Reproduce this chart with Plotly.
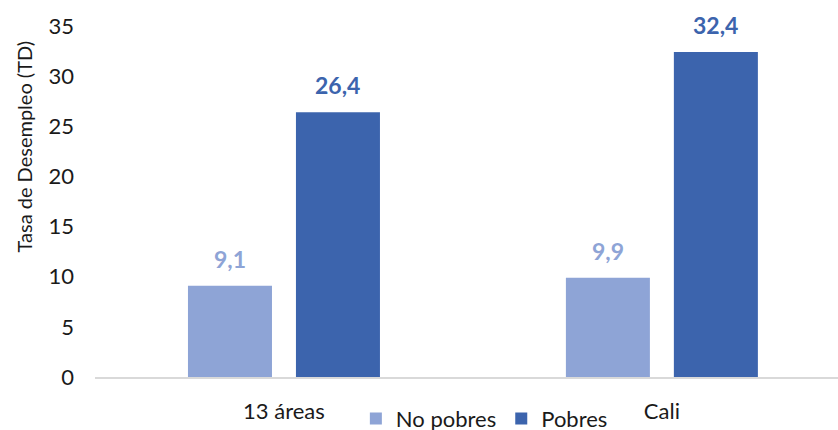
import plotly.graph_objects as go

categories = ["13 áreas", "Cali"]
no_pobres = [9.1, 9.9]
pobres = [26.4, 32.4]
series_names = ["No pobres", "Pobres"]
y_ticks = [0, 5, 10, 15, 20, 25, 30, 35]
y_title = "Tasa de Desempleo (TD)"

colors = ["#8EA4D6", "#3C64AD"]
font_family = "Lato, 'Open Sans', sans-serif"
text_color = "#1a1a1a"

fig = go.Figure()
for name, vals, col in zip(series_names, [no_pobres, pobres], colors):
    fig.add_trace(go.Bar(
        name=name, x=categories, y=vals, marker=dict(color=col, line=dict(width=0)),
    ))

# value labels above each bar, shifted to the bar's slot within its group
for i, (vals, col) in enumerate(zip([no_pobres, pobres], colors)):
    shift = -54 if i == 0 else 54
    for cat, v in zip(categories, vals):
        fig.add_annotation(
            x=cat, y=v, xref="x", yref="y",
            text="<b>" + f"{v:.1f}".replace(".", ",") + "</b>",
            showarrow=False, xshift=shift, yshift=11, yanchor="bottom",
            font=dict(family=font_family, size=23, color=col),
        )

# vertical axis title, set a little above the middle of the axis
fig.add_annotation(
    text=y_title, textangle=-90, showarrow=False,
    xref="paper", yref="paper", x=-0.095, y=0.658, xanchor="center", yanchor="middle",
    font=dict(family=font_family, size=20, color=text_color),
)

fig.update_layout(
    width=838, height=430,
    margin=dict(l=95, r=0, t=26, b=53),
    paper_bgcolor="white", plot_bgcolor="white",
    barmode="group", bargap=0.4286, bargroupgap=0.222,
    separators=",.",
    font=dict(family=font_family, size=22, color=text_color),
    showlegend=True,
    legend=dict(orientation="h", x=0.578, xanchor="center", xref="container",
                y=0.026, yanchor="middle", yref="container",
                font=dict(size=22, color=text_color), itemwidth=30, traceorder="normal"),
    xaxis=dict(range=[-0.5, 1.466], showgrid=False, showline=True, linecolor="#D9D9D9",
               linewidth=1.5, ticks="", ticklabelstandoff=14, tickfont=dict(size=22),
               automargin=False),
    yaxis=dict(range=[0, 35], tickvals=y_ticks, showgrid=False, zeroline=False,
               showline=False, ticks="", ticklabelstandoff=20, tickfont=dict(size=22),
               automargin=False),
)

fig.write_html("out.html")
